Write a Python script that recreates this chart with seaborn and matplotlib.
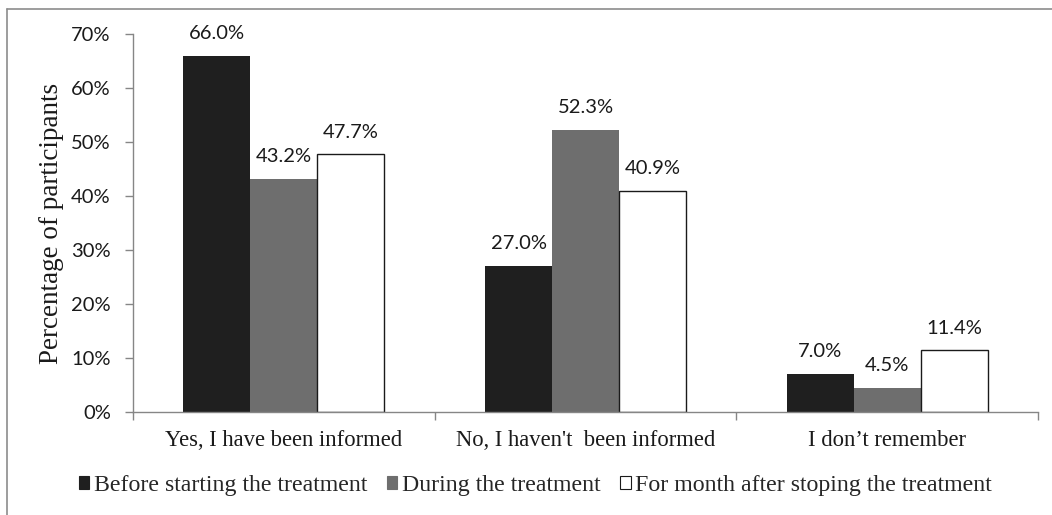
import seaborn as sns
import pandas as pd
import matplotlib.pyplot as plt
from matplotlib.patches import Patch
from matplotlib.lines import Line2D
from matplotlib.ticker import FuncFormatter, FixedLocator

# Данные
categories = ["Yes, I have been informed", "No, I haven't  been informed", "I don\u2019t remember"]
series = ["Before starting the treatment", "During the treatment",
          "For month after stoping the treatment"]
before = [66.0, 27.0, 7.0]
during = [43.2, 52.3, 4.5]
after = [47.7, 40.9, 11.4]
colors = ["#1f1f1f", "#6e6e6e", "#ffffff"]

rows = []
for s, vals in zip(series, [before, during, after]):
    for c, v in zip(categories, vals):
        rows.append({"category": c, "series": s, "value": v})
df = pd.DataFrame(rows)

sns.set_style("white")
plt.rcParams['font.family'] = ['Lato', 'DejaVu Sans']
serif = ['Liberation Serif', 'DejaVu Serif']

fig = plt.figure(figsize=(10.52, 5.15), dpi=100)
ax = fig.add_axes([0.1264, 0.2, 0.8603, 0.734])

sb = sns.barplot(data=df, x="category", y="value", hue="series", order=categories,
                 hue_order=series, palette=colors, width=0.666, gap=0,
                 saturation=1, ax=ax, legend=False)

for i, cont in enumerate(ax.containers):
    for p in cont:
        if i == 2:
            p.set_edgecolor("#1a1a1a")
            p.set_linewidth(1.0)
        else:
            p.set_edgecolor(colors[i])
            p.set_linewidth(0)
    ax.bar_label(cont, fmt="{:.1f}%", padding=10, fontsize=14.5, color="#1a1a1a")

ax.set_ylim(0, 70)
ax.set_xlim(-0.5, 2.5)
ax.set_yticks(range(0, 71, 10))
ax.yaxis.set_major_formatter(FuncFormatter(lambda v, p: f"{int(v)}%"))
ax.tick_params(axis='y', labelsize=14.5, length=6, width=1, color="#868686",
               direction='out', left=True, pad=10, labelcolor="#1a1a1a")
ax.tick_params(axis='x', which='major', length=0, pad=13)
ax.xaxis.set_minor_locator(FixedLocator([-0.5, 0.5, 1.5, 2.5]))
ax.tick_params(axis='x', which='minor', length=6, width=1, color="#868686",
               direction='out', bottom=True)
for lbl in ax.get_xticklabels():
    lbl.set_family(serif)
    lbl.set_fontsize(16.3)
    lbl.set_color("#1a1a1a")

for side in ["top", "right"]:
    ax.spines[side].set_visible(False)
for side in ["left", "bottom"]:
    ax.spines[side].set_color("#868686")
    ax.spines[side].set_linewidth(1)

ax.set_xlabel("")
ax.set_ylabel("Percentage of participants", family=serif, fontsize=19.5,
              color="#1a1a1a", labelpad=5)

handles = [Patch(facecolor=c, edgecolor="#1a1a1a" if c == "#ffffff" else c, linewidth=0.8)
           for c in colors]
fig.legend(handles, series, loc="center", bbox_to_anchor=(0.509, 0.058), ncol=3,
           frameon=False, handlelength=0.45, handleheight=0.45, handletextpad=0.2,
           columnspacing=0.8, prop={'family': serif, 'size': 17.2})

# Рамка вокруг рисунка
fig.add_artist(Line2D([6.5 / 1052, 1], [1 - 8.5 / 515, 1 - 8.5 / 515],
                      transform=fig.transFigure, color="#8c8c8c", lw=1.2))
fig.add_artist(Line2D([6.5 / 1052, 6.5 / 1052], [0, 1 - 8.5 / 515],
                      transform=fig.transFigure, color="#8c8c8c", lw=1.2))

fig.savefig("out.png", dpi=100, facecolor="white")
